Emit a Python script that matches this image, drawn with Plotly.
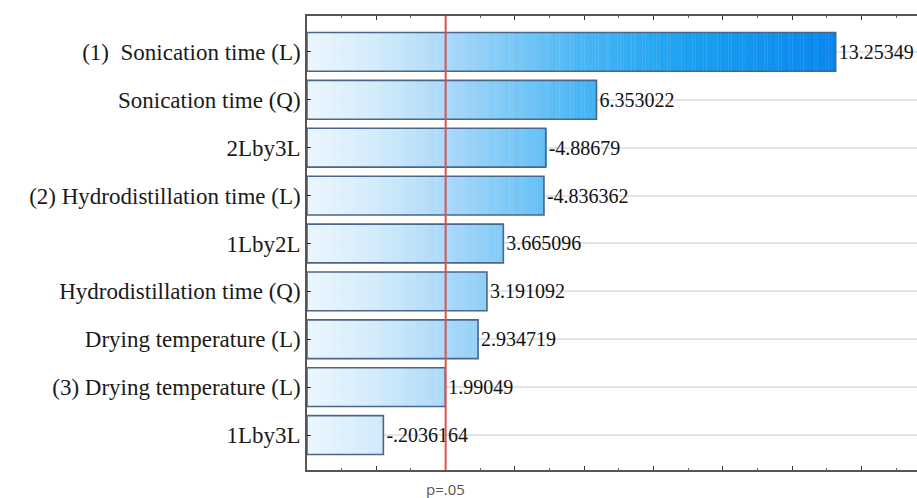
import numpy as np
import plotly.graph_objects as go

# Pareto chart of standardized effects (absolute value drawn, signed value labelled)
effects = [
    "(1)\u00a0\u00a0Sonication time (L)",
    "Sonication time (Q)",
    "2Lby3L",
    "(2) Hydrodistillation time (L)",
    "1Lby2L",
    "Hydrodistillation time (Q)",
    "Drying temperature (L)",
    "(3) Drying temperature (L)",
    "1Lby3L",
]
t_values = [13.25349, 6.353022, -4.88679, -4.836362, 3.665096,
            3.191092, 2.934719, 1.99049, -0.2036164]
value_labels = ["13.25349", "6.353022", "-4.88679", "-4.836362", "3.665096",
                "3.191092", "2.934719", "1.99049", "-.2036164"]
p_crit = 2.0          # critical t at p = .05
x_min, x_max = -2.0, 15.6

rows = list(range(len(effects)))
mags = [abs(v) for v in t_values]

# horizontal colour ramp along the effect axis
stops = [(-2.0, (236, 246, 254)), (0.0, (210, 235, 252)), (2.0, (170, 217, 248)),
         (4.0, (120, 199, 246)), (6.0, (72, 181, 244)), (9.0, (26, 160, 240)),
         (13.3, (8, 134, 238))]


def ramp(x):
    for (x0, c0), (x1, c1) in zip(stops[:-1], stops[1:]):
        if x <= x1:
            f = max(0.0, (x - x0) / (x1 - x0))
            c = [round(a + (b - a) * f) for a, b in zip(c0, c1)]
            return f"rgb({c[0]},{c[1]},{c[2]})"
    c = stops[-1][1]
    return f"rgb({c[0]},{c[1]},{c[2]})"


step = 0.08
seg_y, seg_base, seg_w, seg_col = [], [], [], []
for r, m in zip(rows, mags):
    edges = np.arange(x_min, m, step).tolist() + [m]
    for a, b in zip(edges[:-1], edges[1:]):
        if b - a <= 0:
            continue
        seg_y.append(r)
        seg_base.append(a)
        seg_w.append(b - a + 0.01)
        seg_col.append(ramp((a + b) / 2))

bar_w = 0.81
fig = go.Figure()
fig.add_trace(go.Bar(
    orientation="h", y=seg_y, x=seg_w, base=seg_base, width=bar_w,
    marker=dict(color=seg_col, line=dict(width=0)),
    hoverinfo="skip", showlegend=False,
))
fig.add_trace(go.Bar(
    orientation="h", y=rows, x=[m - x_min for m in mags], base=[x_min] * len(rows),
    width=bar_w,
    marker=dict(color="rgba(0,0,0,0)", line=dict(color="#4a6688", width=1.6)),
    text=value_labels, textposition="outside", constraintext="none",
    textfont=dict(family="Liberation Serif", size=20, color="#111"),
    cliponaxis=False, showlegend=False,
))

fig.add_shape(type="line", x0=p_crit, x1=p_crit, y0=0, y1=1, xref="x", yref="paper",
              line=dict(color="#d9534f", width=2), layer="above")
fig.add_annotation(x=p_crit, y=0, xref="x", yref="paper", yshift=-7, text="p=.05",
                   showarrow=False, yanchor="top",
                   font=dict(family="Open Sans", size=15, color="#555"))

fig.update_layout(
    width=917, height=498, barmode="overlay",
    margin=dict(l=307, r=0, t=16, b=28),
    paper_bgcolor="white", plot_bgcolor="white",
    xaxis=dict(range=[x_min, x_max], showgrid=False, zeroline=False,
               showticklabels=False, showline=True, linecolor="#555", linewidth=1.5,
               mirror="ticks", ticks="inside", ticklen=4, tickcolor="#333",
               tick0=0, dtick=2,
               minor=dict(ticks="inside", ticklen=2, dtick=1, tickcolor="#666")),
    yaxis=dict(range=[8.73, -0.75], tickvals=rows, ticktext=effects,
               showgrid=True, gridcolor="#e4e4e4", gridwidth=2, zeroline=False,
               showline=True, linecolor="#555", linewidth=1.5,
               ticks="inside", ticklen=4, tickcolor="#333",
               tickfont=dict(family="Liberation Serif", size=23, color="#1a1a1a")),
)

fig.write_html("out.html")
